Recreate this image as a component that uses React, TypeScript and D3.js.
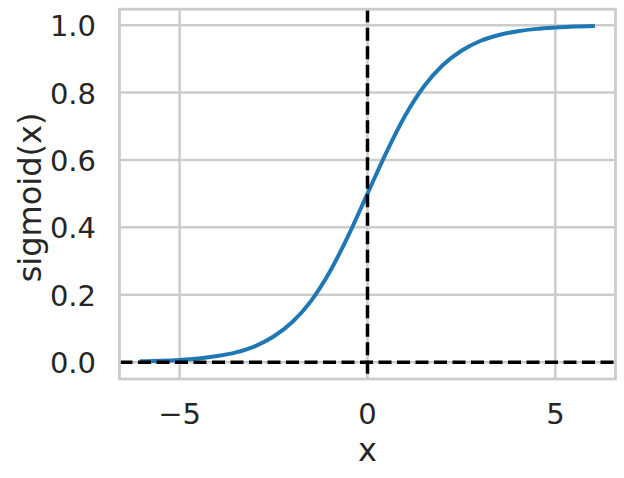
import React from "react";
import * as d3 from "d3";

const xs = [-6, -5.5, -5, -4.5, -4, -3.5, -3, -2.5, -2, -1.5, -1, -0.5, 0, 0.5, 1, 1.5, 2, 2.5, 3, 3.5, 4, 4.5, 5, 5.5, 6];
const ys = [0.0025, 0.004, 0.0067, 0.011, 0.018, 0.029, 0.047, 0.076, 0.119, 0.182, 0.269, 0.378, 0.5, 0.622, 0.731, 0.818, 0.881, 0.924, 0.953, 0.971, 0.982, 0.989, 0.993, 0.996, 0.9975];
const xTicks = [-5, 0, 5];
const yTicks = [0.0, 0.2, 0.4, 0.6, 0.8, 1.0];

export default function App() {
  const W = 624, H = 478;
  const L = 119.5, R = 615.5, T = 9.2, B = 379;
  const x = d3.scaleLinear().domain([-6.6, 6.6]).range([L, R]);
  const y = d3.scaleLinear().domain([-0.05, 1.0474]).range([B, T]);
  const line = d3.line<number>().x((d, i) => x(xs[i])).y((d) => y(d)).curve(d3.curveMonotoneX);
  const txt = "#262626";
  const font = "DejaVu Sans, sans-serif";
  return (
    <svg width={W} height={H} style={{ position: "absolute", left: 0, top: 0 }} fontFamily={font}>
      <rect x={0} y={0} width={W} height={H} fill="#fff" />
      {xTicks.map((t) => (
        <line key={"gx" + t} x1={x(t)} x2={x(t)} y1={T} y2={B} stroke="#cccccc" strokeWidth={2.5} />
      ))}
      {yTicks.map((t) => (
        <line key={"gy" + t} x1={L} x2={R} y1={y(t)} y2={y(t)} stroke="#cccccc" strokeWidth={2.5} />
      ))}
      <path d={line(ys) || ""} fill="none" stroke="#1f77b4" strokeWidth={4} strokeLinecap="square" />
      <line x1={L} x2={R} y1={y(0)} y2={y(0)} stroke="#000" strokeWidth={3.5} strokeDasharray="13,5.5" />
      <line x1={x(0)} x2={x(0)} y1={T} y2={B} stroke="#000" strokeWidth={3.5} strokeDasharray="13,5.5" />
      <rect x={L} y={T} width={R - L} height={B - T} fill="none" stroke="#cccccc" strokeWidth={2.8} />
      {xTicks.map((t) => (
        <text key={"tx" + t} x={x(t)} y={424} textAnchor="middle" fontSize={29} fill={txt}>
          {t < 0 ? "\u2212" + Math.abs(t) : String(t)}
        </text>
      ))}
      {yTicks.map((t) => (
        <text key={"ty" + t} x={96} y={y(t) + 11} textAnchor="end" fontSize={29} fill={txt}>
          {t.toFixed(1)}
        </text>
      ))}
      <text x={x(0)} y={461} textAnchor="middle" fontSize={32} fill={txt}>x</text>
      <text transform={`translate(41,197.5) rotate(-90)`} textAnchor="middle" fontSize={32} fill={txt}>sigmoid(x)</text>
    </svg>
  );
}
